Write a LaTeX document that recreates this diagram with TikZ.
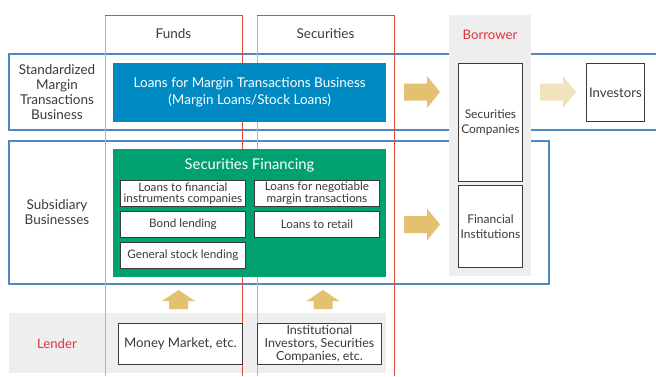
\documentclass[tikz,border=0pt]{standalone}
\usepackage{fontspec}
\setmainfont{Lato}
\usetikzlibrary{positioning}

\definecolor{frameblue}{RGB}{82,136,194}
\definecolor{colred}{RGB}{214,78,58}
\definecolor{colpink}{RGB}{234,160,146}
\definecolor{mtblue}{RGB}{0,138,196}
\definecolor{sfgreen}{RGB}{0,160,112}
\definecolor{panelgray}{RGB}{238,238,238}
\definecolor{gold}{RGB}{228,193,112}
\definecolor{palegold}{RGB}{242,226,190}
\definecolor{labelred}{RGB}{224,52,64}
\definecolor{boxedge}{RGB}{62,56,56}
\definecolor{textgray}{RGB}{58,58,58}

\tikzset{
  frame/.style={draw=frameblue, line width=1.1pt},
  column/.style={draw=colred, line width=0.9pt},
  panel/.style={fill=panelgray, inner sep=0pt, anchor=north west},
  label/.style={text=textgray, align=center, font=\fontsize{13.5}{15}\selectfont},
  redlabel/.style={text=labelred, font=\fontsize{13.2}{15}\selectfont},
  whitebox/.style={draw=boxedge, fill=white, line width=0.9pt, inner sep=0pt,
    anchor=north west, align=center, text=textgray, font=\fontsize{13.2}{15}\selectfont},
  smallbox/.style={whitebox, minimum width=125pt, minimum height=26pt,
    font=\fontsize{11.7}{10.6}\selectfont},
  colorbox/.style={inner sep=0pt, anchor=north west, text=white, align=center},
  % block arrows, centred on the pic position
  rightarrow/.pic={
    \fill[pic actions] (-18,-8.5) -- (5,-8.5) -- (5,-16) -- (18,0)
      -- (5,16) -- (5,8.5) -- (-18,8.5) -- cycle;
  },
  uparrow/.pic={
    \fill[pic actions] (-9.5,9.5) -- (-9.5,1.5) -- (-16.5,1.5) -- (0,-9.5)
      -- (16.5,1.5) -- (9.5,1.5) -- (9.5,9.5) -- cycle;
  },
}

\begin{document}
\begin{tikzpicture}[x=1pt, y=-1pt]
  \useasboundingbox (0,0) rectangle (656,376);

  % Row frames
  \draw[frame] (656,54) -- (9,54) -- (9,130) -- (656,130);
  \draw[frame] (9,141) rectangle (549,284);

  % Grey panels
  \node[panel, minimum width=82pt, minimum height=261pt] (borrower) at (449,15) {};
  \node[panel, minimum width=377pt, minimum height=60pt] (lender) at (9,313) {};

  % Funds / Securities columns
  \draw[column] (105,376) -- (105,15) -- (242,15) -- (242,376);
  \draw[column] (257,376) -- (257,15) -- (394,15) -- (394,376);
  \draw[colpink, line width=0.9pt] (105,16) -- (105,376);
  \draw[colpink, line width=0.9pt] (257,16) -- (257,376);

  % Headings
  \node[label] (funds) at (173.5,34) {Funds};
  \node[label] (securities) at (325.5,34) {Securities};
  \node[redlabel] (borrowerlbl) at (490,35) {Borrower};
  \node[redlabel] (lenderlbl) at (57,344) {Lender};
  \node[label] (standard) at (57,92) {Standardized\\Margin\\Transactions\\Business};
  \node[label] (subsidiary) at (57,212.5) {Subsidiary\\Businesses};

  % Margin transactions business
  \node[colorbox, fill=mtblue, minimum width=273pt, minimum height=59pt,
    font=\fontsize{13.5}{17}\selectfont] (margin) at (113,63)
    {Loans for Margin Transactions Business\\(Margin Loans/Stock Loans)};

  % Securities financing
  \node[colorbox, fill=sfgreen, minimum width=273pt, minimum height=128pt] (financing) at (113,149) {};
  \node[text=white, font=\fontsize{14.8}{16}\selectfont] (financingtitle) at (249.5,165) {Securities Financing};
  \node[smallbox] (fininst) at (120,180) {Loans to financial\\instruments companies};
  \node[smallbox] (bond) at (120,211) {Bond lending};
  \node[smallbox] (general) at (120,242) {General stock lending};
  \node[smallbox] (negotiable) at (254,180) {Loans for negotiable\\margin transactions};
  \node[smallbox] (retail) at (254,211) {Loans to retail};

  % Borrowers and investors
  \node[whitebox, minimum width=64pt, minimum height=118pt, font=\fontsize{12}{15}\selectfont] (seccomp) at (458,63)
    {Securities\\Companies};
  \node[whitebox, minimum width=64pt, minimum height=82pt, font=\fontsize{12}{15}\selectfont] (fininstitutions) at (458,185)
    {Financial\\Institutions};
  \node[whitebox, minimum width=58pt, minimum height=58pt] (investors) at (586,63) {Investors};

  % Lenders
  \node[whitebox, minimum width=124pt, minimum height=41pt] (money) at (118,323) {Money Market, etc.};
  \node[whitebox, minimum width=124pt, minimum height=41pt, font=\fontsize{12.5}{12.8}\selectfont] (institutional) at (257,323)
    {Institutional\\Investors, Securities\\Companies, etc.};

  % Flow arrows
  \pic[fill=gold] (toseccomp) at (422,92) {rightarrow};
  \pic[fill=palegold] (toinvestors) at (558,92) {rightarrow};
  \pic[fill=gold] (tofininst) at (422,224.5) {rightarrow};
  \pic[fill=gold] (fromfunds) at (178.5,299.5) {uparrow};
  \pic[fill=gold] (fromsecurities) at (323,299.5) {uparrow};

\end{tikzpicture}
\end{document}
